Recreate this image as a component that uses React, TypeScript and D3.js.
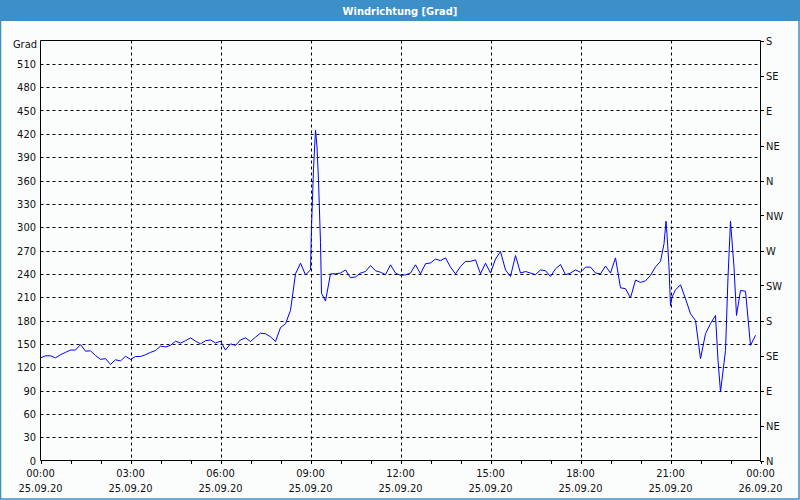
import React from "react"
import * as d3 from "d3"

// minutes since 25.09.20 00:00
const times = [
  0, 10, 20, 30, 40, 50, 60, 70, 80, 90, 100, 110, 120, 130, 140, 150, 160, 170, 180, 190,
  200, 210, 220, 230, 240, 250, 260, 270, 280, 290, 300, 310, 320, 330, 340, 350, 360, 370, 380, 390,
  400, 410, 420, 430, 440, 450, 460, 470, 480, 490, 500, 510, 520, 530, 540, 542, 546, 550, 553, 556,
  560, 562, 570, 580, 590, 600, 610, 620, 630, 640, 650, 660, 670, 680, 690, 700, 710, 720, 730, 740,
  750, 760, 770, 780, 790, 800, 810, 820, 830, 840, 850, 860, 870, 880, 890, 900, 910, 920, 930, 940,
  950, 960, 970, 980, 990, 1000, 1010, 1020, 1030, 1040, 1050, 1060, 1070, 1080, 1090, 1100, 1110, 1120, 1130, 1140,
  1150, 1160, 1170, 1180, 1190, 1200, 1210, 1220, 1230, 1240, 1247, 1251, 1253, 1257, 1260, 1263, 1270, 1280, 1290, 1300,
  1310, 1320, 1330, 1340, 1350, 1355, 1360, 1370, 1375, 1380, 1387, 1392, 1400, 1410, 1420, 1430,
]

const values = [
  132, 134.6, 134.6, 132, 136, 139, 142, 142, 149, 140.6, 141, 135, 130, 131, 123.5, 129.5, 128, 134, 130, 133.7,
  133.7, 136, 139, 141.4, 147, 146, 148, 153.4, 151, 154, 157.7, 153.4, 150, 154, 155, 151, 153.4, 142, 150, 148,
  155, 157.7, 153, 158.6, 163.7, 163, 159, 153, 171, 175.7, 193, 240, 253.7, 238.7, 245, 300, 375, 425, 403, 360,
  280, 215, 205, 240, 240, 241, 245, 235, 236, 241, 243, 250.7, 244, 242, 239, 251.6, 241, 238, 238.7, 241,
  251.6, 240, 253, 254, 259, 257, 260.5, 248.6, 240, 249.4, 256, 256, 258, 240, 253.7, 241, 259, 268.7, 245, 236.6,
  263.5, 241, 243, 241, 239, 245, 244, 236.6, 246.4, 252, 239, 241, 245, 242, 248.6, 248.6, 241, 240, 250, 241,
  260.5, 222, 221, 209, 232, 229, 231, 238, 249, 256, 278.5, 307.7, 291, 248.6, 199, 210, 219.4, 226, 208, 188.6,
  180, 131, 163, 176, 186.5, 129, 88, 141.5, 235.7, 307.7, 248.6, 186.5, 218.6, 217.7, 148, 161,
]

const leftTicks = d3.range(0, 541, 30)
const compassTicks = d3.range(0, 541, 45)
const compassLabels = ["N", "NE", "E", "SE", "S", "SW", "W", "NW", "N", "NE", "E", "SE", "S"]
const hourTicks = d3.range(0, 1441, 60)
const labelTicks = d3.range(0, 1441, 180)
const timeLabels = ["00:00", "03:00", "06:00", "09:00", "12:00", "15:00", "18:00", "21:00", "00:00"]
const dateLabels = ["25.09.20", "25.09.20", "25.09.20", "25.09.20", "25.09.20", "25.09.20", "25.09.20", "25.09.20", "26.09.20"]

const W = 800
const H = 500
const frame = "#3c8fc7"
const font = "Tahoma, 'Liberation Sans Narrow', 'DejaVu Sans Condensed', sans-serif"

export default function App() {
  const x = d3.scaleLinear().domain([0, 1440]).range([40.5, 760.5])
  const y = d3.scaleLinear().domain([0, 540]).range([460.5, 40.5])

  const line = d3
    .line<number>()
    .x((_, i) => x(times[i]))
    .y((d) => y(d))

  return (
    <div style={{ position: "fixed", left: 0, top: 0 }}>
      <svg width={W} height={H} style={{ display: "block" }} fontFamily={font} fontSize={11}>
        <rect x={0} y={0} width={W} height={H} fill="#fbfdfc" />
        {/* title bar and frame */}
        <rect x={0} y={0} width={W} height={21} fill={frame} />
        <rect x={0.5} y={0.5} width={W - 1.5} height={H - 1.5} fill="none" stroke={frame} strokeWidth={1.5} />
        <text x={W / 2} y={14.5} textAnchor="middle" fill="#fff" fontWeight="bold">
          Windrichtung [Grad]
        </text>

        {/* grid */}
        {leftTicks.filter((t) => t > 0 && t < 540).map((t) => (
          <line key={"h" + t} x1={40.5} x2={760.5} y1={Math.round(y(t)) + 0.5} y2={Math.round(y(t)) + 0.5}
            stroke="#000" strokeDasharray="3,3" />
        ))}
        {labelTicks.filter((t) => t > 0 && t < 1440).map((t) => (
          <line key={"v" + t} x1={Math.round(x(t)) + 0.5} x2={Math.round(x(t)) + 0.5} y1={40.5} y2={460.5}
            stroke="#000" strokeDasharray="3,3" />
        ))}

        {/* axes */}
        <line x1={40.5} x2={760.5} y1={40.5} y2={40.5} stroke="#000" />
        <line x1={40.5} x2={760.5} y1={460.5} y2={460.5} stroke="#000" />
        <line x1={40.5} x2={40.5} y1={40.5} y2={460.5} stroke="#000" />
        <line x1={760.5} x2={760.5} y1={40.5} y2={460.5} stroke="#000" />

        {/* left axis labels */}
        <text x={37} y={48} textAnchor="end" fill="#111">Grad</text>
        {leftTicks.filter((t) => t < 540).map((t) => (
          <text key={"l" + t} x={36} y={y(t) + 4} textAnchor="end" fill="#111">{t}</text>
        ))}

        {/* right compass axis */}
        {compassTicks.map((t, i) => (
          <g key={"r" + t}>
            <line x1={760} x2={764} y1={Math.round(y(t)) + 0.5} y2={Math.round(y(t)) + 0.5} stroke="#000" />
            <text x={766} y={y(t) + 4} fill="#111">{compassLabels[i]}</text>
          </g>
        ))}

        {/* x axis */}
        {hourTicks.map((t) => (
          <line key={"t" + t} x1={Math.round(x(t)) + 0.5} x2={Math.round(x(t)) + 0.5} y1={461} y2={464} stroke="#000" />
        ))}
        {labelTicks.map((t, i) => (
          <g key={"xl" + t}>
            <text x={x(t)} y={477} textAnchor="middle" fill="#111">{timeLabels[i]}</text>
            <text x={x(t)} y={492} textAnchor="middle" fill="#111">{dateLabels[i]}</text>
          </g>
        ))}

        <path d={line(values) ?? ""} fill="none" stroke="#0000ff" strokeWidth={1} />
      </svg>
    </div>
  )
}
